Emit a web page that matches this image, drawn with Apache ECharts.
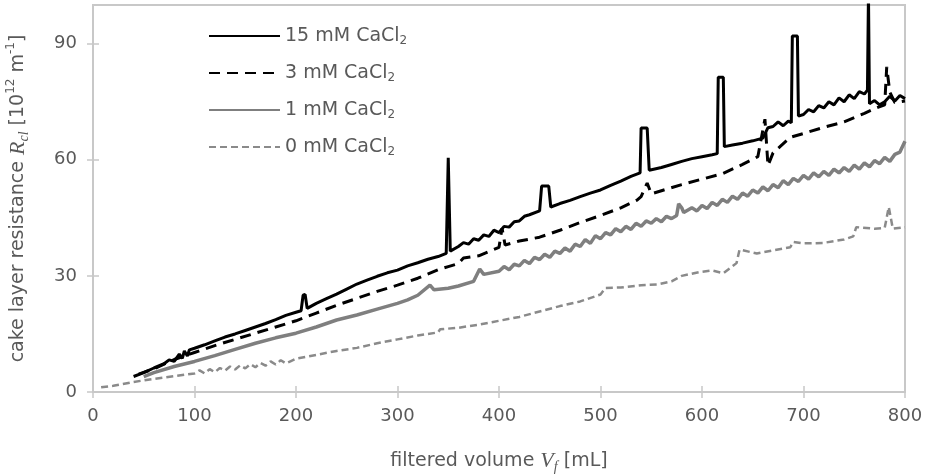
<!DOCTYPE html>
<html>
<head>
<meta charset="utf-8">
<script src="https://cdn.jsdelivr.net/npm/echarts@6/dist/echarts.min.js"></script>
<style>
  html, body { margin: 0; padding: 0; background: #fff; }
  #chart { width: 926px; height: 475px; }
</style>
</head>
<body>
<div id="chart"></div>
<script>
// legend names
const seriesNames = ['15 mM CaCl2', '3 mM CaCl2', '1 mM CaCl2', '0 mM CaCl2'];
const yTicks = [0, 30, 60, 90];

// [filtered volume mL, cake layer resistance 10^12 m^-1]
const cacl15 = [
  [40, 4.0], [50, 5.0], [60, 6.2], [70, 7.3], [75, 8.3], [80, 7.9], [85, 9.8], [88, 8.7],
  [90, 10.6], [93, 9.3], [95, 10.9], [100, 11.3], [110, 12.2], [120, 13.2], [130, 14.2],
  [140, 15.0], [150, 15.9], [160, 16.8], [170, 17.7], [180, 18.7], [190, 19.8], [200, 20.6],
  [205, 21.0], [207, 25.0], [209, 25.2], [211, 21.6], [220, 22.9], [230, 24.1], [240, 25.3],
  [250, 26.6], [260, 27.9], [270, 28.9], [280, 29.9], [290, 30.8], [300, 31.5], [310, 32.6],
  [320, 33.4], [330, 34.3], [340, 35.0], [348, 35.8], [350, 60.5], [352, 36.4], [360, 37.6],
  [365, 38.6], [370, 38.2], [375, 39.6], [380, 39.2], [385, 40.6], [390, 40.2], [395, 41.8],
  [400, 41.2], [405, 42.8], [410, 42.6], [415, 44.0], [420, 44.2], [425, 45.4], [430, 45.8],
  [440, 46.8], [442, 53.2], [449, 53.2], [451, 47.8], [460, 48.7], [470, 49.5], [480, 50.5],
  [490, 51.4], [500, 52.2], [510, 53.4], [520, 54.5], [530, 55.7], [539, 56.6], [540, 68.2],
  [546, 68.2], [548, 57.3], [560, 58.0], [570, 58.8], [580, 59.6], [590, 60.3], [600, 60.8],
  [610, 61.3], [615, 61.6], [616, 81.3], [621, 81.3], [622, 63.4], [630, 63.8], [640, 64.3],
  [650, 64.9], [660, 65.6], [665, 68.3], [670, 68.6], [675, 69.8], [680, 68.8], [685, 70.0],
  [688, 69.6], [689, 92.0], [694, 92.0], [695, 71.3], [700, 71.7], [705, 73.0], [710, 72.4],
  [715, 74.0], [720, 73.4], [725, 75.0], [730, 74.2], [735, 76.0], [740, 75.0], [745, 76.8],
  [750, 75.8], [755, 77.6], [760, 77.0], [763, 78.0], [764, 103], [765, 74.5], [770, 75.3],
  [775, 74.2], [780, 75.0], [785, 76.4], [790, 75.2], [795, 76.6], [800, 75.8]
];
const cacl3 = [
  [45, 4.6], [60, 6.0], [80, 8.4], [100, 10.2], [120, 12.0], [140, 13.6], [160, 15.2],
  [180, 16.8], [200, 18.4], [220, 20.4], [240, 22.4], [260, 24.2], [280, 26.0], [300, 27.6],
  [320, 29.4], [340, 31.6], [350, 32.4], [360, 33.2], [365, 34.6], [380, 35.2], [400, 37.4],
  [403, 42.3], [406, 38.0], [420, 39.0], [440, 40.0], [460, 41.8], [480, 43.8], [500, 45.6],
  [520, 47.6], [536, 49.6], [540, 50.5], [546, 54.0], [550, 51.2], [560, 52.0], [580, 53.6],
  [600, 55.0], [620, 56.4], [640, 58.8], [655, 60.8], [662, 70.5], [665, 58.5], [670, 61.8],
  [687, 65.8], [700, 66.8], [720, 68.4], [740, 69.8], [760, 72.0], [770, 73.2], [780, 74.2],
  [782, 84.0], [785, 77.5], [790, 74.8], [800, 75.2]
];
const cacl1 = [
  [50, 4.0], [60, 5.0], [80, 6.6], [100, 7.9], [120, 9.4], [140, 11.0], [160, 12.6],
  [180, 14.0], [200, 15.2], [220, 16.8], [240, 18.6], [260, 19.9], [280, 21.4], [300, 22.9],
  [310, 23.8], [320, 25.0], [332, 27.6], [336, 26.4], [350, 26.8], [360, 27.4], [375, 28.6],
  [381, 31.8], [385, 30.4], [400, 31.2], [405, 32.4], [410, 31.6], [415, 33.0], [420, 32.6],
  [425, 34.0], [430, 33.2], [435, 34.8], [440, 34.2], [445, 35.6], [450, 34.8], [455, 36.4],
  [460, 35.8], [465, 37.2], [470, 36.4], [475, 38.2], [480, 37.6], [485, 39.4], [490, 38.4],
  [495, 40.4], [500, 39.6], [505, 41.2], [510, 40.6], [515, 42.2], [520, 41.4], [525, 42.8],
  [530, 42.0], [535, 43.6], [540, 42.8], [545, 44.2], [550, 43.6], [555, 44.8], [560, 44.0],
  [565, 45.4], [570, 44.8], [575, 45.6], [577, 48.6], [580, 47.6], [582, 46.4], [590, 47.6],
  [595, 46.8], [600, 48.2], [605, 47.4], [610, 49.0], [615, 48.2], [620, 49.8], [625, 49.0],
  [630, 50.6], [635, 49.8], [640, 51.4], [645, 50.6], [650, 52.2], [655, 51.4], [660, 53.0],
  [665, 52.0], [670, 53.6], [675, 52.8], [680, 54.6], [685, 53.6], [690, 55.2], [695, 54.4],
  [700, 56.0], [705, 55.0], [710, 56.6], [715, 55.6], [720, 57.0], [725, 56.0], [730, 57.6],
  [735, 56.6], [740, 58.0], [745, 57.0], [750, 58.6], [755, 57.6], [760, 59.2], [765, 58.2],
  [770, 59.8], [775, 59.0], [780, 60.6], [785, 59.6], [790, 61.4], [795, 62.0], [800, 64.8]
];
const cacl0 = [
  [8, 1.2], [20, 1.6], [40, 2.6], [60, 3.4], [80, 4.1], [100, 4.8], [105, 5.6], [110, 4.8],
  [115, 5.9], [120, 5.1], [125, 6.2], [130, 5.5], [135, 6.6], [140, 5.8], [145, 6.9], [150, 6.1],
  [155, 7.2], [160, 6.4], [165, 7.5], [170, 6.8], [175, 7.9], [180, 7.1], [185, 8.2], [190, 7.4],
  [195, 8.0], [200, 8.6], [220, 9.6], [240, 10.6], [260, 11.4],
  [280, 12.6], [300, 13.6], [320, 14.6], [340, 15.4], [342, 16.2], [360, 16.6], [380, 17.4],
  [400, 18.4], [420, 19.4], [440, 20.8], [460, 22.2], [480, 23.4], [500, 25.2], [505, 26.9],
  [520, 27.0], [540, 27.6], [556, 27.8], [570, 28.6], [580, 30.0], [598, 31.0], [610, 31.4],
  [621, 30.7], [634, 33.3], [637, 36.8], [654, 35.8], [670, 36.6], [687, 37.4], [690, 38.8],
  [700, 38.4], [719, 38.5], [740, 39.4], [749, 40.2], [752, 42.6], [770, 42.2], [780, 42.4],
  [784, 47.8], [788, 42.2], [800, 42.6]
];

const chart = echarts.init(document.getElementById('chart'), null, { renderer: 'canvas' });

const textColor = '#595959';
const axisGray = '#c8c8c8';
const font = 'DejaVu Sans';

const option = {
  animation: false,
  legend: {
    orient: 'vertical',
    left: 203,
    top: 20,
    itemWidth: 71,
    itemHeight: 20,
    itemGap: 15,
    data: seriesNames,
    itemStyle: { opacity: 0, color: 'rgba(0,0,0,0)', borderWidth: 0 },
    formatter: name => name.replace('CaCl2', 'CaCl{sub|2}'),
    textStyle: {
      color: textColor,
      fontFamily: font,
      fontSize: 19,
      lineHeight: 22,
      rich: {
        sub: { fontFamily: font, fontSize: 12, color: textColor, verticalAlign: 'bottom', lineHeight: 12 }
      }
    }
  },
  grid: {
    left: 93,
    top: 5,
    width: 812,
    height: 387,
    outerBoundsMode: 'none',
    containLabel: false,
    show: true,
    borderColor: axisGray,
    borderWidth: 2
  },
  xAxis: [{
    type: 'value',
    min: 0,
    max: 800,
    interval: 100,
    splitLine: { show: false },
    axisLine: { lineStyle: { color: axisGray, width: 2 } },
    axisTick: { length: 6, lineStyle: { color: axisGray, width: 1.5 } },
    axisLabel: { color: textColor, fontFamily: font, fontSize: 18, margin: 15 },
    name: 'filtered volume {it|V}{sub|f} [mL]',
    nameLocation: 'middle',
    nameGap: 56,
    nameTextStyle: {
      color: textColor, fontFamily: font, fontSize: 19, lineHeight: 26,
      rich: {
        it: { fontFamily: 'Liberation Serif', fontStyle: 'italic', fontSize: 22, color: textColor, lineHeight: 26 },
        sub: { fontFamily: 'Liberation Serif', fontStyle: 'italic', fontSize: 14, color: textColor, verticalAlign: 'bottom', lineHeight: 14 }
      }
    }
  }, {
    type: 'value',
    min: 0,
    max: 800,
    interval: 100,
    position: 'bottom',
    splitLine: { show: false },
    axisLine: { show: false },
    axisLabel: { show: false },
    axisTick: { inside: true, length: 6, lineStyle: { color: axisGray, width: 1.5 } }
  }],
  yAxis: [{
    type: 'value',
    min: 0,
    max: 100,
    interval: 30,
    splitLine: { show: false },
    axisLine: { show: true, lineStyle: { color: axisGray, width: 2 } },
    axisTick: { show: true, length: 6, customValues: yTicks, lineStyle: { color: axisGray, width: 1.5 } },
    axisLabel: { color: textColor, fontFamily: font, fontSize: 18, margin: 16, customValues: yTicks },
    name: 'cake layer resistance {it|R}{sub|cl} [10{sup|12} m{sup|-1}]',
    nameLocation: 'middle',
    nameGap: 62,
    nameTextStyle: {
      color: textColor, fontFamily: font, fontSize: 19, lineHeight: 26,
      rich: {
        it: { fontFamily: 'Liberation Serif', fontStyle: 'italic', fontSize: 22, color: textColor, lineHeight: 26 },
        sub: { fontFamily: 'Liberation Serif', fontStyle: 'italic', fontSize: 14, color: textColor, verticalAlign: 'bottom', lineHeight: 14 },
        sup: { fontFamily: font, fontSize: 12, color: textColor, verticalAlign: 'top', lineHeight: 12 }
      }
    }
  }, {
    type: 'value',
    min: 0,
    max: 100,
    interval: 30,
    position: 'left',
    splitLine: { show: false },
    axisLine: { show: false },
    axisLabel: { show: false },
    axisTick: { show: true, inside: true, length: 6, customValues: yTicks, lineStyle: { color: axisGray, width: 1.5 } }
  }],
  series: [{
    name: seriesNames[0],
    type: 'line',
    data: cacl15,
    symbol: 'none',
    lineStyle: { color: '#000', width: 3, type: 'solid' },
    itemStyle: { color: '#000' },
    z: 5
  }, {
    name: seriesNames[1],
    type: 'line',
    data: cacl3,
    symbol: 'none',
    lineStyle: { color: '#000', width: 3, type: [11, 7] },
    itemStyle: { color: '#000' },
    z: 4
  }, {
    name: seriesNames[2],
    type: 'line',
    data: cacl1,
    symbol: 'none',
    lineStyle: { color: '#7f7f7f', width: 3.5, type: 'solid' },
    itemStyle: { color: '#7f7f7f' },
    z: 3
  }, {
    name: seriesNames[3],
    type: 'line',
    data: cacl0,
    symbol: 'none',
    lineStyle: { color: '#8a8a8a', width: 2.5, type: [7, 4] },
    itemStyle: { color: '#8a8a8a' },
    z: 2
  }]
};

chart.setOption(option);
</script>
</body>
</html>
